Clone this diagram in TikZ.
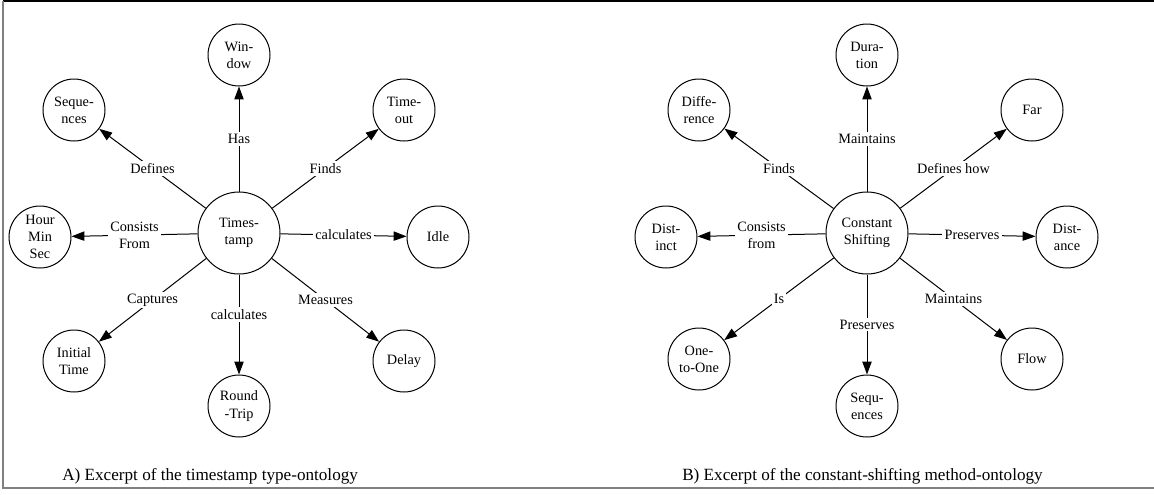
\documentclass[tikz,border=0pt]{standalone}
\usepackage{fontspec}
\setmainfont{Liberation Serif}
\usetikzlibrary{arrows.meta}
\tikzstyle{concept} = [circle, draw, line width=0.7pt, minimum size=43.4pt, inner sep=0pt, align=center, font=\fontsize{10}{12}\selectfont]
\tikzstyle{hub} = [concept, minimum size=57.4pt]
\tikzstyle{link} = [draw, line width=0.7pt, ->, >={Triangle[length=9pt,width=6.5pt]}]
\tikzstyle{rel} = [fill=white, inner sep=1.5pt, align=center, font=\fontsize{10}{12}\selectfont]
\tikzstyle{caption} = [anchor=west, inner sep=0pt, font=\fontsize{12}{14}\selectfont]
\definecolor{frame}{RGB}{128,128,128}

\begin{document}
\begin{tikzpicture}[x=0.7pt, y=-0.7pt]
    \useasboundingbox (0,0) rectangle (1154,494);
    \draw[line width=0.8pt] (3,1) -- (1154,1);
    \draw[frame, line width=1.4pt] (3,1) -- (3,488) -- (1154,488);

    % A) timestamp type-ontology
    \node[hub] (ts) at (239,233) {Times-\\tamp};
    \node[concept] (win) at (239,55) {Win-\\dow};
    \node[concept] (seq) at (74,110) {Seque-\\nces};
    \node[concept] (tout) at (404,110) {Time-\\out};
    \node[concept] (hms) at (40,237) {Hour\\Min\\Sec};
    \node[concept] (idle) at (438,237) {Idle};
    \node[concept] (init) at (74,361) {Initial\\Time};
    \node[concept] (rtt) at (239,406) {Round\\-Trip};
    \node[concept] (delay) at (404,361) {Delay};

    \draw[link] (ts) -- node[rel] {Has} (win);
    \draw[link] (ts) -- node[rel] {Defines} (seq);
    \draw[link] (ts) -- node[rel] {Finds} (tout);
    \draw[link] (ts) -- node[rel] {Consists\\From} (hms);
    \draw[link] (ts) -- node[rel] {calculates} (idle);
    \draw[link] (ts) -- node[rel] {Captures} (init);
    \draw[link] (ts) -- node[rel, pos=0.4] {calculates} (rtt);
    \draw[link] (ts) -- node[rel] {Measures} (delay);

    \node[caption] (capa) at (62,476) {A) Excerpt of the timestamp type-ontology};

    % B) constant-shifting method-ontology
    \node[hub] (cs) at (867,233) {Constant\\Shifting};
    \node[concept] (dur) at (867,55) {Dura-\\tion};
    \node[concept] (diff) at (699,110) {Diffe-\\rence};
    \node[concept] (far) at (1032,110) {Far};
    \node[concept] (dist) at (666,237) {Dist-\\inct};
    \node[concept] (dista) at (1067,237) {Dist-\\ance};
    \node[concept] (one) at (699,359) {One-\\to-One};
    \node[concept] (sequ) at (867,406) {Sequ-\\ences};
    \node[concept] (flow) at (1032,359) {Flow};

    \draw[link] (cs) -- node[rel] {Maintains} (dur);
    \draw[link] (cs) -- node[rel] {Finds} (diff);
    \draw[link] (cs) -- node[rel] {Defines how} (far);
    \draw[link] (cs) -- node[rel] {Consists\\from} (dist);
    \draw[link] (cs) -- node[rel] {Preserves} (dista);
    \draw[link] (cs) -- node[rel] {Is} (one);
    \draw[link] (cs) -- node[rel] {Preserves} (sequ);
    \draw[link] (cs) -- node[rel] {Maintains} (flow);

    \node[caption] (capb) at (682,476) {B) Excerpt of the constant-shifting method-ontology};
\end{tikzpicture}
\end{document}
